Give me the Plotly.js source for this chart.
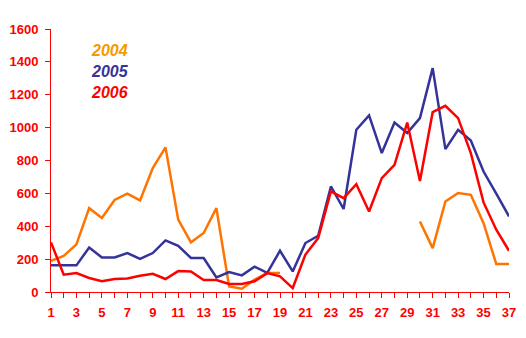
<!DOCTYPE html>
<html>
<head>
<meta charset="utf-8">
<script src="https://cdn.plot.ly/plotly-3.0.1.min.js"></script>
<style>
html,body{margin:0;padding:0;background:#fff;}
#chart{width:526px;height:338px;}
</style>
</head>
<body>
<div id="chart"></div>
<script>
// Weeks 1..37
const weeks = Array.from({length: 37}, (_, i) => i + 1);
const xTickVals = [1,3,5,7,9,11,13,15,17,19,21,23,25,27,29,31,33,35,37];
const yTickVals = [0,200,400,600,800,1000,1200,1400,1600];

const series2004 = [190,220,290,510,450,560,598,557,754,880,440,302,359,510,34,20,75,115,115,
  null,null,null,null,null,null,null,null,null,null,
  429,267,551,602,591,419,170,170];
const series2005 = [162,162,162,271,210,210,237,202,237,314,281,207,207,89,121,101,154,117,251,125,298,
  342,642,505,987,1074,845,1031,967,1058,1362,869,987,922,733,598,460];
const series2006 = [302,105,115,85,65,79,82,99,111,79,127,125,73,73,49,49,65,115,95,24,228,
  328,612,571,656,490,693,774,1031,675,1094,1133,1058,845,545,379,251];

const seriesNames = ['2004','2005','2006'];
const lineColors = ['#ff7300','#333399','#ff0000'];
const textColors = ['#f39a00','#333399','#ff0000'];
const allSeries = [series2004, series2005, series2006];

const traces = allSeries.map((s, i) => ({
  x: weeks, y: s, type: 'scatter', mode: 'lines', name: seriesNames[i],
  line: {color: lineColors[i], width: 2.5}, connectgaps: false
}));

const axisRed = '#ff0000';
const tickFont = {family: 'Liberation Sans, Arial, sans-serif', size: 13, color: axisRed, weight: 'bold'};

const layout = {
  width: 526, height: 338,
  margin: {l: 51, r: 17, t: 29, b: 46},
  paper_bgcolor: '#ffffff', plot_bgcolor: '#ffffff',
  showlegend: false,
  xaxis: {
    range: [1, 37], showgrid: false, zeroline: false,
    showline: true, linecolor: axisRed, linewidth: 1,
    tickmode: 'array', tickvals: xTickVals, ticktext: xTickVals.map(String),
    ticks: 'outside', ticklen: 5, tickcolor: axisRed, tickwidth: 1,
    minor: {tickmode: 'linear', tick0: 1, dtick: 1, ticks: 'outside', ticklen: 5, tickcolor: axisRed, tickwidth: 1},
    tickfont: tickFont, ticklabelstandoff: 3
  },
  yaxis: {
    range: [0, 1600], showgrid: false, zeroline: false,
    showline: true, linecolor: axisRed, linewidth: 1,
    tickmode: 'array', tickvals: yTickVals, ticktext: yTickVals.map(String),
    ticks: 'outside', ticklen: 5, tickcolor: axisRed, tickwidth: 1,
    tickfont: tickFont, ticklabelstandoff: 4
  },
  annotations: seriesNames.map((n, i) => ({
    x: 3.95, y: 1470 - i * 128, xref: 'x', yref: 'y',
    text: n, showarrow: false, xanchor: 'left', yanchor: 'middle',
    font: {family: 'Liberation Sans, Arial, sans-serif', size: 16, color: textColors[i], weight: 'bold', style: 'italic'}
  }))
};

Plotly.newPlot('chart', traces, layout, {displayModeBar: false, staticPlot: true});
</script>
</body>
</html>
